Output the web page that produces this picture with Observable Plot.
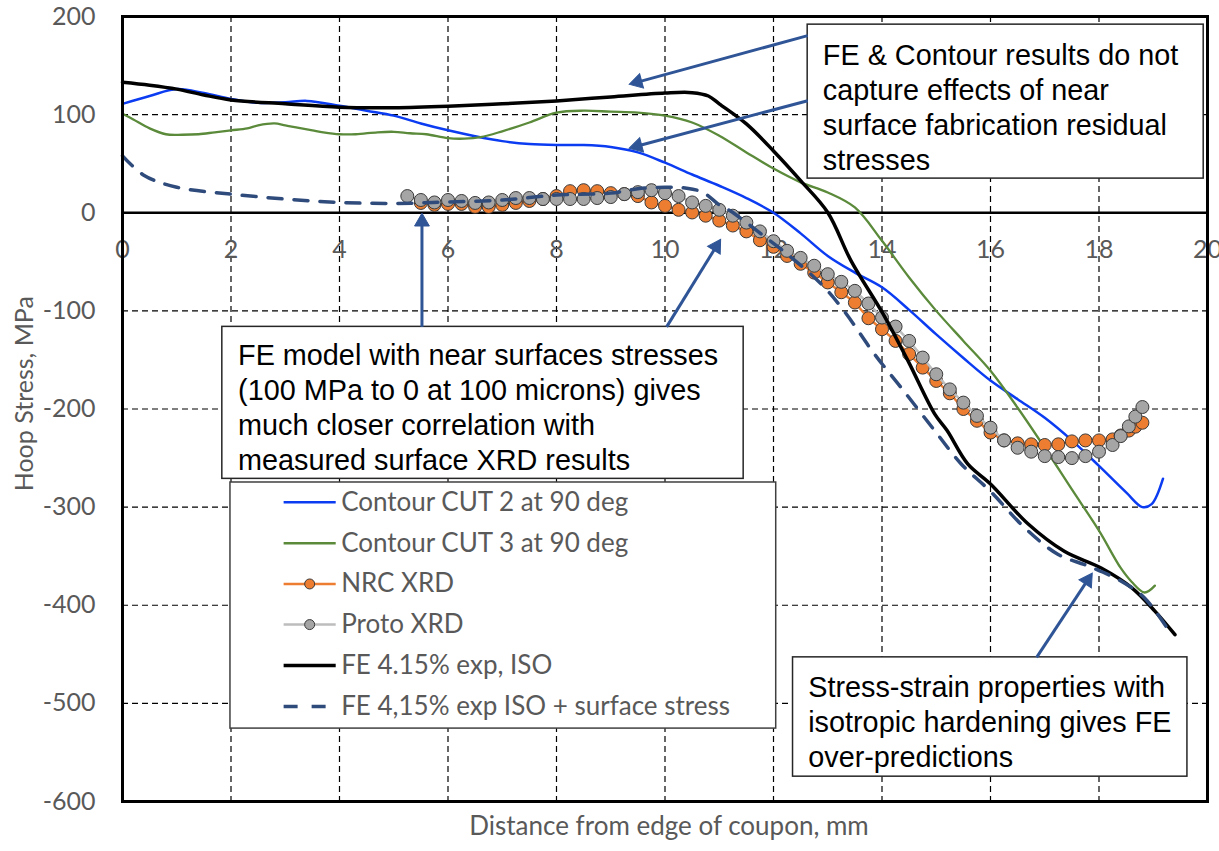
<!DOCTYPE html>
<html>
<head>
<meta charset="utf-8">
<script src="https://cdn.jsdelivr.net/npm/d3@7"></script>
<script src="https://cdn.jsdelivr.net/npm/@observablehq/plot@0.6"></script>
<style>
  body { margin: 0; background: #fff; }
  #chart svg { display: block; }
</style>
</head>
<body>
<div id="chart"></div>
<script>
// Hoop stress (MPa) against distance from the edge of the coupon (mm)

// Contour CUT 2 at 90 deg
const cut2X = [0, 0.5, 1.0, 1.5, 2.0, 2.5, 3.0, 3.4, 4.0, 4.5, 5.0, 5.5, 6.0, 6.5, 7.0, 7.5, 8.0, 8.5, 9.0, 9.5, 10.0, 10.5, 11.0, 11.5, 12.0, 12.5, 13.0, 13.5, 14.0, 14.5, 15.0, 15.5, 16.0, 16.5, 17.0, 17.5, 18.0, 18.5, 18.8, 18.97, 19.18];
const cut2Y = [111, 119, 126, 122, 116, 112, 112.5, 114, 109, 104, 99, 91, 84, 78, 73, 70, 69, 69, 67, 61.5, 51, 39, 27.5, 15, 0, -21, -44, -61, -76, -99, -124, -148, -171, -190, -209, -232, -258, -285, -300, -297, -271];

// Contour CUT 3 at 90 deg
const cut3X = [0, 0.2, 0.5, 0.8, 1.1, 1.4, 1.7, 2.0, 2.3, 2.5, 2.8, 3.0, 3.2, 3.5, 3.7, 4.0, 4.3, 4.7, 5.0, 5.3, 5.6, 6.0, 6.3, 6.6, 7.0, 7.5, 8.0, 8.5, 9.0, 9.5, 10.0, 10.5, 11.0, 11.5, 12.0, 12.5, 13.0, 13.5, 14.0, 14.5, 15.0, 15.5, 16.0, 16.5, 17.0, 17.5, 18.0, 18.4, 18.6, 18.84, 19.03];
const cut3Y = [101, 95, 86, 80, 79.5, 80, 82, 84, 86, 89, 91, 89, 87, 84, 82, 80, 80, 82, 82.5, 81, 80, 76, 75.5, 77, 83, 92, 102, 104, 103, 102, 99, 92, 78.5, 61.5, 45, 31, 20.7, 5.4, -28.6, -66, -100, -130.6, -161, -198.7, -239.5, -282, -324, -362, -376, -387, -380];

// NRC XRD
const nrcX = [5.5, 5.75, 6.0, 6.25, 6.5, 6.75, 7.0, 7.25, 7.5, 7.75, 8.0, 8.25, 8.5, 8.75, 9.0, 9.25, 9.5, 9.75, 10.0, 10.25, 10.5, 10.75, 11.0, 11.25, 11.5, 11.75, 12.0, 12.25, 12.5, 12.75, 13.0, 13.25, 13.5, 13.75, 14.0, 14.25, 14.5, 14.75, 15.0, 15.25, 15.5, 15.75, 16.0, 16.25, 16.5, 16.75, 17.0, 17.25, 17.5, 17.75, 18.0, 18.25, 18.4, 18.55, 18.67, 18.8];
const nrcY = [10, 8, 9, 9, 6, 6, 8, 10, 12, 14, 17, 22, 23, 22, 20, 19, 17, 10.5, 7, 3, 0.3, -3, -8, -13, -19, -28, -34.7, -44, -52, -61, -71, -81, -91.5, -107.5, -118.7, -130.6, -144, -157.8, -171.4, -184, -200, -212, -224, -232, -235, -236, -236.7, -236, -233, -232, -232, -231, -227, -222, -218, -214];

// Proto XRD
const protoX = [5.25, 5.5, 5.75, 6.0, 6.25, 6.5, 6.75, 7.0, 7.25, 7.5, 7.75, 8.0, 8.25, 8.5, 8.75, 9.0, 9.25, 9.5, 9.75, 10.0, 10.25, 10.5, 10.75, 11.0, 11.25, 11.5, 11.75, 12.0, 12.25, 12.5, 12.75, 13.0, 13.25, 13.5, 13.75, 14.0, 14.25, 14.5, 14.75, 15.0, 15.25, 15.5, 15.75, 16.0, 16.25, 16.5, 16.75, 17.0, 17.25, 17.5, 17.75, 18.0, 18.25, 18.4, 18.55, 18.67, 18.8];
const protoY = [17, 13, 10.5, 13, 12, 10, 10.5, 13, 15, 15, 14, 14, 14, 14, 15, 16, 19, 21, 23, 20, 17, 10.5, 7, 3, -3, -10, -19, -29, -38.8, -46, -54, -62.6, -70.4, -79.6, -92.5, -106.8, -116, -130.6, -147.6, -164.6, -180, -193.5, -207, -219, -232, -239.5, -243.5, -248, -249, -250, -248, -243.5, -236.7, -227.6, -217.7, -207.8, -198];

// FE 4.15% exp, ISO
const feX = [0, 0.5, 1.0, 1.5, 2.0, 3.0, 4.0, 5.0, 6.0, 7.0, 8.0, 9.0, 10.0, 10.5, 10.8, 11.0, 11.5, 12.0, 12.5, 13.0, 13.43, 14.02, 14.48, 14.97, 15.2, 15.58, 16.0, 16.69, 17.36, 18.04, 18.6, 19.03, 19.4];
const feY = [133, 130, 126, 120, 115, 111, 107.5, 107, 108.5, 111, 114, 118, 122, 122.4, 119, 111, 90.5, 63, 32.7, 0.3, -49, -103, -151, -205, -222, -256, -276.5, -317, -345, -362, -382, -406, -430];

// FE 4,15% exp ISO + surface stress
const feSurfX = [0, 0.4, 1.0, 2.0, 3.0, 4.0, 5.0, 6.0, 7.0, 8.0, 9.0, 9.5, 10.0, 10.4, 10.7, 11.0, 11.2, 11.5, 11.77, 12.25, 12.88, 13.3, 13.86, 14.35, 14.97, 15.46, 16.0, 16.63, 17.24, 17.8, 18.41, 18.84, 19.27];
const feSurfY = [58, 38, 26, 19, 14, 10.5, 9.5, 11, 13, 18, 20, 24.5, 26, 25, 20.7, 8, 2, -10, -21.6, -42, -72.7, -100, -144, -178, -222, -256, -284, -321, -348, -360, -375.5, -392.5, -424.5];

// Axis ticks and labels
const xTicks = [0, 2, 4, 6, 8, 10, 12, 14, 16, 18, 20];
const yTicks = [200, 100, 0, -100, -200, -300, -400, -500, -600];
const xGrid = [2, 4, 6, 8, 10, 12, 14, 16, 18];
const yGrid = [100, -100, -200, -300, -400, -500];
const xTitle = "Distance from edge of coupon, mm";
const yTitle = "Hoop Stress, MPa";

// Legend entries
const legendLabels = [
  "Contour CUT 2 at 90 deg",
  "Contour CUT 3 at 90 deg",
  "NRC XRD",
  "Proto XRD",
  "FE 4.15% exp, ISO",
  "FE 4,15% exp ISO + surface stress"
];

// Callout texts
const noteTop = "FE & Contour results do not\ncapture effects of near\nsurface fabrication residual\nstresses";
const noteMid = "FE model with near surfaces stresses\n(100 MPa to 0 at 100 microns) gives\nmuch closer correlation with\nmeasured surface XRD results";
const noteBottom = "Stress-strain properties with\nisotropic hardening gives FE\nover-predictions";

// ---- styling and layout ----
const W = 1219, H = 851;
const M = {left: 122, right: 12, top: 16, bottom: 50};
const X_DOMAIN = [0, 20], Y_DOMAIN = [-600, 200];
const kx = (W - M.left - M.right) / (X_DOMAIN[1] - X_DOMAIN[0]); // px per mm
const ky = (H - M.top - M.bottom) / (Y_DOMAIN[1] - Y_DOMAIN[0]); // px per MPa

const BLUE = "#0b3cf2";
const GREEN = "#5a8a3a";
const ORANGE = "#ed7d31";
const GREY = "#a5a5a5";
const GREYLINE = "#bdbdbd";
const NAVY = "#2f4b7c";
const ARROW = "#2f5597";
const TEXTGREY = "#595959";
const SANS = "'Liberation Sans', Arial, sans-serif";

const pts = (xs, ys) => xs.map((x, i) => ({x, y: ys[i]}));

// Callout boxes and arrows, in axis units
const boxes = [
  {x1: 12.63, x2: 19.93, y1: 191.7, y2: 34.8},
  {x1: 1.84, x2: 11.45, y1: -116.3, y2: -271.2},
  {x1: 12.36, x2: 19.63, y1: -453.1, y2: -574.7}
];
const notes = [
  {x: 12.91, y: 175.3, text: noteTop},
  {x: 2.13, y: -130.3, text: noteMid},
  {x: 12.64, y: -468.5, text: noteBottom}
];
const arrowSpecs = [
  {x1: 12.63, y1: 180.5, x2: 9.35, y2: 131},
  {x1: 12.63, y1: 114.2, x2: 9.35, y2: 66},
  {x1: 5.52, y1: -116.3, x2: 5.52, y2: -1},
  {x1: 10.03, y1: -116.3, x2: 11.02, y2: -27.6},
  {x1: 16.85, y1: -453.1, x2: 17.87, y2: -367.8}
];
// shaft stops short of the tip; a filled triangle marks the head
const HEAD_R = 5.5;
const HEAD_BACK = 8;   // centroid of the triangle behind the tip, px
const SHAFT_BACK = 9;  // shaft end behind the tip, px
const arrows = arrowSpecs.map(a => {
  const sx = (a.x2 - a.x1) * kx, sy = -(a.y2 - a.y1) * ky;
  const len = Math.hypot(sx, sy), ux = sx / len, uy = sy / len;
  const back = d => ({x: a.x2 - d * ux / kx, y: a.y2 + d * uy / ky});
  const shaftEnd = back(SHAFT_BACK), head = back(HEAD_BACK);
  return {
    x1: a.x1, y1: a.y1, x2: shaftEnd.x, y2: shaftEnd.y,
    hx: head.x, hy: head.y,
    angle: Math.atan2(ux, -uy) * 180 / Math.PI
  };
});

// Legend layout
const legendBox = {x1: 1.99, x2: 12.05, y1: -274.9, y2: -525.7};
const legendRows = [-295.1, -336.9, -378.3, -419.7, -461.5, -503.3];
const legendStyles = [
  {stroke: BLUE, strokeWidth: 2.5},
  {stroke: GREEN, strokeWidth: 2.5},
  {stroke: ORANGE, strokeWidth: 2.5, dot: ORANGE},
  {stroke: GREYLINE, strokeWidth: 2.5, dot: GREY},
  {stroke: "#000", strokeWidth: 3.5},
  {stroke: NAVY, strokeWidth: 3.5, strokeDasharray: "14,14"}
];
const legendItems = legendLabels.map((label, i) => ({label, y: legendRows[i], ...legendStyles[i]}));
const sampleX1 = 2.97, sampleX2 = 3.93, sampleMid = 3.45, legendTextX = 4.03;

const legendMarks = legendItems.map(item => {
  const {stroke, strokeWidth, strokeDasharray, dot} = item;
  const marks = [
    Plot.link([item], {x1: sampleX1, x2: sampleX2, y1: "y", y2: "y", stroke, strokeWidth, strokeDasharray})
  ];
  if (dot) marks.push(Plot.dot([item], {x: sampleMid, y: "y", r: 5, fill: dot, stroke: "#3a3a3a", strokeWidth: 1}));
  return marks;
});

// axis title placement
const yTitlePos = {x: 0, y: -184.4, dx: -98};

const chart = Plot.plot({
  width: W,
  height: H,
  marginLeft: M.left,
  marginRight: M.right,
  marginTop: M.top,
  marginBottom: M.bottom,
  x: {domain: X_DOMAIN, axis: null},
  y: {domain: Y_DOMAIN, label: null},
  style: {fontFamily: "Lato, sans-serif", background: "#fff", overflow: "visible"},
  marks: [
    Plot.gridX(xGrid, {stroke: "#000", strokeOpacity: 1, strokeWidth: 1.2, strokeDasharray: "6,4"}),
    Plot.gridY(yGrid, {stroke: "#000", strokeOpacity: 1, strokeWidth: 1.2, strokeDasharray: "6,4"}),
    Plot.ruleY([0], {stroke: "#000", strokeWidth: 2.5}),

    Plot.axisY(yTicks, {tickSize: 0, tickPadding: 27, tickFormat: d => String(d), fontSize: 25, fill: TEXTGREY, label: null}),
    Plot.text(xTicks, {x: d => d, y: 0, dy: 37, text: d => String(d), fontSize: 25, fill: TEXTGREY}),
    Plot.text([yTitle], {x: () => yTitlePos.x, y: () => yTitlePos.y, text: d => d, dx: yTitlePos.dx, rotate: -90, fontSize: 25, fill: TEXTGREY}),
    Plot.text([xTitle], {frameAnchor: "bottom", dy: 33, dx: 4, fontSize: 26, fill: TEXTGREY}),

    Plot.line(pts(cut2X, cut2Y), {x: "x", y: "y", stroke: BLUE, strokeWidth: 2.5, curve: "catmull-rom"}),
    Plot.line(pts(cut3X, cut3Y), {x: "x", y: "y", stroke: GREEN, strokeWidth: 2.3, curve: "catmull-rom"}),
    Plot.line(pts(nrcX, nrcY), {x: "x", y: "y", stroke: ORANGE, strokeWidth: 2.5}),
    Plot.dot(pts(nrcX, nrcY), {x: "x", y: "y", r: 6.5, fill: ORANGE, stroke: "#3a3a3a", strokeWidth: 1}),
    Plot.line(pts(protoX, protoY), {x: "x", y: "y", stroke: GREYLINE, strokeWidth: 2.5}),
    Plot.dot(pts(protoX, protoY), {x: "x", y: "y", r: 6.5, fill: GREY, stroke: "#3a3a3a", strokeWidth: 1}),
    Plot.line(pts(feX, feY), {x: "x", y: "y", stroke: "#000", strokeWidth: 3.5, curve: "catmull-rom"}),
    Plot.line(pts(feSurfX, feSurfY), {x: "x", y: "y", stroke: NAVY, strokeWidth: 3.5, strokeDasharray: "14,12", curve: "catmull-rom"}),

    // callouts
    Plot.rect(boxes, {x1: "x1", x2: "x2", y1: "y1", y2: "y2", fill: "#fff", stroke: "#262626", strokeWidth: 1.5}),
    Plot.text(notes, {x: "x", y: "y", text: "text", textAnchor: "start", lineAnchor: "top", lineHeight: 1.21, fontSize: 28.8, fill: "#000", fontFamily: SANS}),
    Plot.link(arrows, {x1: "x1", y1: "y1", x2: "x2", y2: "y2", stroke: ARROW, strokeWidth: 3}),
    Plot.dot(arrows, {x: "hx", y: "hy", symbol: "triangle", r: HEAD_R, rotate: "angle", fill: ARROW, stroke: ARROW, strokeWidth: 1}),

    // legend
    Plot.rect([legendBox], {x1: "x1", x2: "x2", y1: "y1", y2: "y2", fill: "#fff", stroke: "#404040", strokeWidth: 1.5}),
    ...legendMarks,
    Plot.text(legendItems, {x: legendTextX, y: "y", text: "label", textAnchor: "start", fontSize: 26, fill: TEXTGREY}),

    Plot.frame({stroke: "#000", strokeWidth: 3})
  ]
});

document.getElementById("chart").append(chart);
</script>
</body>
</html>
